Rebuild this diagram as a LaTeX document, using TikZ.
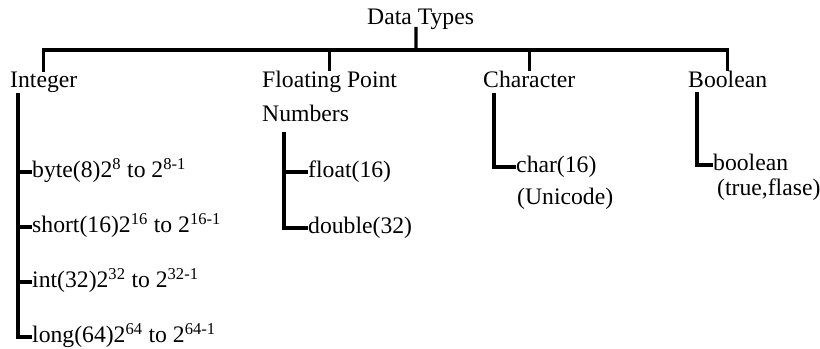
\documentclass[tikz,border=0pt]{standalone}
\usepackage{fontspec}
\setmainfont{Liberation Serif}
\usetikzlibrary{positioning}
\tikzset{
      txt/.style={inner sep=0pt, anchor=base west, font=\fontsize{20.2}{24}\selectfont},
      link/.style={draw=black, line width=2.6pt},
}

\begin{document}
\begin{tikzpicture}[x=0.03cm, y=0.03cm]
        \useasboundingbox (0,0) rectangle (820,-349);

        % top level
        \node[txt] (root) at (367,-25) {Data Types};
        \node[txt] (int) at (10,-88) {Integer};
        \node[txt] (fp) at (262,-88) {Floating Point};
        \node[txt] (fpn) at (262,-122) {Numbers};
        \node[txt] (chr) at (483,-88) {Character};
        \node[txt] (bool) at (688,-88) {Boolean};

        \coordinate (bar) at (416,-50);
        \draw[link] ([xshift=1.47cm, yshift=-0.06cm]root.base west) -- (bar);
        \foreach \n in {int,fp,chr,bool}
            \draw[link] (bar) -| (\n.north);

        % integer types
        \node[txt] (byte) at (32,-178) {byte(8)2\textsuperscript{8} to 2\textsuperscript{8-1}};
        \node[txt] (short) at (32,-233) {short(16)2\textsuperscript{16} to 2\textsuperscript{16-1}};
        \node[txt] (intt) at (32,-288) {int(32)2\textsuperscript{32} to 2\textsuperscript{32-1}};
        \node[txt] (long) at (32,-343) {long(64)2\textsuperscript{64} to 2\textsuperscript{64-1}};

        \coordinate (intv) at ([xshift=0.24cm]int.south west);
        \foreach \n in {byte,short,intt,long}
            \draw[link] (intv) |- ([yshift=0.18cm]\n.base west);

        % floating point types
        \node[txt] (flt) at (308,-178) {float(16)};
        \node[txt] (dbl) at (308,-234) {double(32)};

        \coordinate (fpv) at ([xshift=0.66cm, yshift=-0.3cm]fpn.south west);
        \foreach \n in {flt,dbl}
            \draw[link] (fpv) |- ([yshift=0.18cm]\n.base west);

        % character
        \node[txt] (chr16) at (516,-173) {char(16)};
        \node[txt] (uni) at (517,-205) {(Unicode)};

        \coordinate (chrv) at ([xshift=0.33cm, yshift=-0.15cm]chr.south west);
        \draw[link] (chrv) |- ([yshift=0.18cm]chr16.base west);

        % boolean
        \node[txt] (bln) at (713,-171) {boolean};
        \node[txt] (tf) at (717,-196) {(true,flase)};

        \coordinate (boolv) at ([xshift=0.27cm, yshift=-0.12cm]bool.south west);
        \draw[link] (boolv) |- ([yshift=0.18cm]bln.base west);

\end{tikzpicture}
\end{document}
